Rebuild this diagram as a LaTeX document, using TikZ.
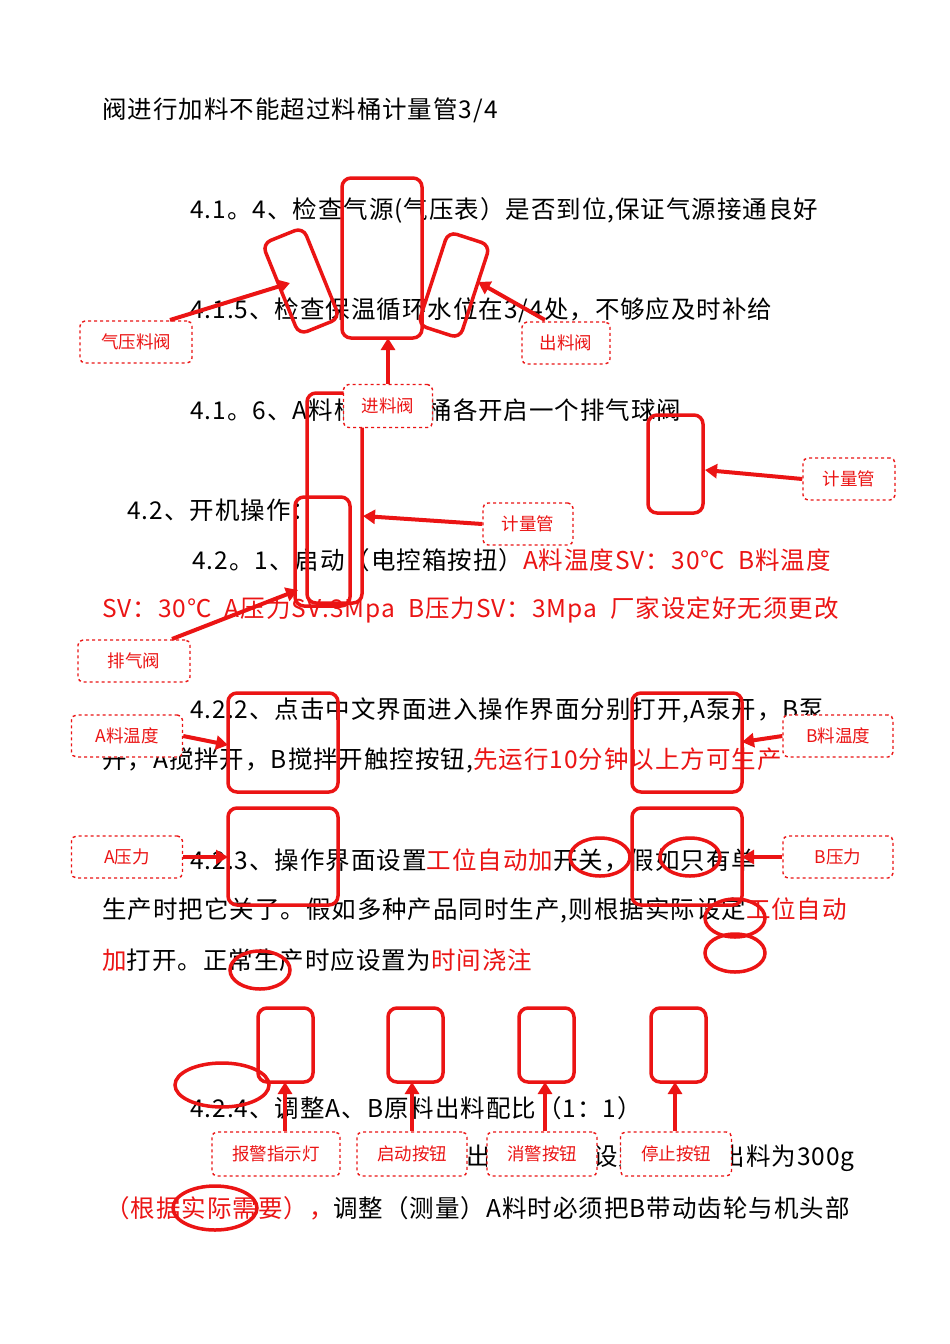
\documentclass[tikz,border=0pt]{standalone}
\usepackage{fontspec}
\newfontfamily\cjk[LetterSpace=4]{Noto Sans CJK SC}
\newfontfamily\cjklab{Noto Sans CJK SC}
\usetikzlibrary{arrows.meta}
\definecolor{rd}{RGB}{235,20,20}
\begin{document}
\begin{tikzpicture}[x=1pt,y=-1pt,
  txt/.style={anchor=west,inner sep=0pt,font=\cjk\fontsize{24.5}{24.5}\selectfont},
  lab/.style={draw=rd,fill=white,dashed,line width=1.4pt,rounded corners=5pt,text=rd,font=\cjklab\fontsize{17.5}{17.5}\selectfont,inner sep=0pt},
  frame/.style={draw=rd,line width=3.5pt,rounded corners=9pt},
  ov/.style={draw=rd,line width=3.5pt},
  arr/.style={draw=rd,line width=4pt,-{Triangle[length=12pt,width=14pt]}}]
\useasboundingbox (0,0) rectangle (950,1344);
\fill[white] (0,0) rectangle (950,1344);
\def\R#1{\textcolor{rd}{#1}}
% text
\node[txt] at (102,110) {阀进行加料不能超过料桶计量管3/4};
\node[txt] at (190,210) {4.1。4、检查气源(气压表）是否到位,保证气源接通良好};
\node[txt] at (190,310) {4.1.5、检查保温循环水位在3/4处，不够应及时补给};
\node[txt] at (190,410) {4.1。6、A料桶、B料桶各开启一个排气球阀};
\node[txt] at (127,510) {4.2、开机操作：};
\node[txt] at (192,560) {4.2。1、启动（电控箱按扭）\R{A料温度SV：30℃\ \ B料温度}};
\node[txt] at (102,610) {\R{SV：30℃\ \ A压力SV:3Mpa\ \ B压力SV：3Mpa\ \ 厂家设定好无须更改}};
\node[txt] at (190,710) {4.2.2、点击中文界面进入操作界面分别打开,A泵开，B泵};
\node[txt] at (102,760) {开，A搅拌开，B搅拌开触控按钮,\R{先运行10分钟以上方可生产}};
\node[txt] at (190,860) {4.2.3、操作界面设置\R{工位自动加}开关，假如只有单};
\node[txt] at (102,910) {生产时把它关了。假如多种产品同时生产,则根据实际设定\R{工位自动}};
\node[txt] at (102,960) {\R{加}打开。正常生产时应设置为\R{时间浇注}};
\node[txt] at (190,1108) {4.2.4、调整A、B原料出料配比（1：1）};
\node[txt,anchor=east] at (855,1158) {4.2.5、出料时间，设定调试时出料为300g};
\node[txt] at (105,1208) {\R{（根据实际需要），}调整（测量）A料时必须把B带动齿轮与机头部};
% frames
\draw[frame] (342,178) rectangle (422,338);
\node[frame,minimum width=44pt,minimum height=98pt,rotate=22] (lt) at (301,281) {};
\node[frame,minimum width=44pt,minimum height=98pt,rotate=-18] (rt) at (454,285) {};
\draw[frame] (307,393) rectangle (362,603);
\draw[frame] (295,497) rectangle (350,606);
\draw[frame] (648,415) rectangle (703,513);
\draw[frame] (228,693) rectangle (338,792);
\draw[frame] (632,693) rectangle (742,792);
\draw[frame] (228,808) rectangle (338,905);
\draw[frame] (632,808) rectangle (742,905);
\foreach \x in {258,388,519,651} \draw[frame] (\x,1008) rectangle ++(55,74);
% ellipses
\draw[ov] (600,857) ellipse [x radius=30,y radius=19];
\draw[ov] (690,857) ellipse [x radius=30,y radius=19];
\draw[ov] (735,918) ellipse [x radius=30,y radius=19];
\draw[ov] (735,953) ellipse [x radius=30,y radius=19];
\draw[ov] (260,970) ellipse [x radius=30,y radius=19];
\draw[ov] (222,1085) ellipse [x radius=47,y radius=22];
\draw[ov] (215,1208) ellipse [x radius=42,y radius=22];
% labels
\node[lab,minimum width=112pt,minimum height=42pt] (qy) at (136,342) {气压料阀};
\node[lab,minimum width=88pt,minimum height=42pt] (cl) at (566,343) {出料阀};
\node[lab,minimum width=89pt,minimum height=43pt] (jl) at (388,406) {进料阀};
\node[lab,minimum width=90pt,minimum height=42pt] (jg1) at (528,524) {计量管};
\node[lab,minimum width=92pt,minimum height=42pt] (jg2) at (849,479) {计量管};
\node[lab,minimum width=112pt,minimum height=42pt] (pq) at (134,661) {排气阀};
\node[lab,minimum width=111pt,minimum height=42pt] (at) at (127,736) {A料温度};
\node[lab,minimum width=110pt,minimum height=42pt] (bt) at (838,736) {B料温度};
\node[lab,minimum width=111pt,minimum height=42pt] (ap) at (127,857) {A压力};
\node[lab,minimum width=110pt,minimum height=42pt] (bp) at (838,857) {B压力};
\node[lab,minimum width=128pt,minimum height=44pt] (l1) at (276,1154) {报警指示灯};
\node[lab,minimum width=110pt,minimum height=44pt] (l2) at (412,1154) {启动按钮};
\node[lab,minimum width=110pt,minimum height=44pt] (l3) at (542,1154) {消警按钮};
\node[lab,minimum width=111pt,minimum height=44pt] (l4) at (676,1154) {停止按钮};
% arrows
\draw[arr] (170,320) -- (290,283);
\draw[arr] (545,320) -- (478,282);
\draw[arr] (jl.north) -- (388,338);
\draw[arr] (jg1.west) -- (363,516);
\draw[arr] (jg2.west) -- (705,470);
\draw[arr] (172,639) -- (298,590);
\draw[arr] (at.east) -- (228,745);
\draw[arr] (bt.west) -- (742,742);
\draw[arr] (ap.east) -- (228,857);
\draw[arr] (bp.west) -- (742,857);
\draw[arr] (l1.north -| 285,0) -- (285,1082);
\draw[arr] (l2.north) -- (412,1082);
\draw[arr] (l3.north -| 545,0) -- (545,1082);
\draw[arr] (l4.north -| 675,0) -- (675,1082);
\end{tikzpicture}
\end{document}
